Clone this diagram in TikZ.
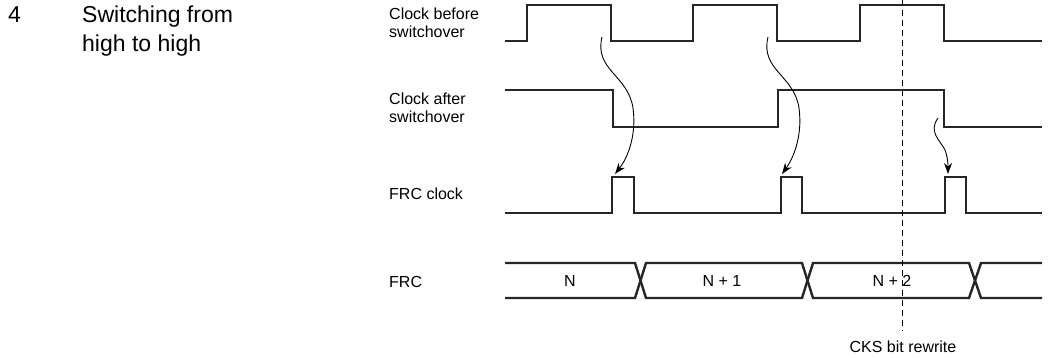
\documentclass[tikz,border=0pt]{standalone}
\usepackage{fontspec}
\setmainfont{Liberation Sans}
\usetikzlibrary{arrows.meta}
\begin{document}
\begin{tikzpicture}[x=1pt,y=-1pt,
  sig/.style={line width=2.4pt, line join=miter, color=black!85},
  cause/.style={line width=0.9pt, -{Stealth[length=11pt,width=8pt]}},
  lbl/.style={font=\fontsize{16}{17.5}\selectfont, inner sep=0pt, anchor=base west, align=left},
  val/.style={font=\fontsize{16}{17}\selectfont, inner sep=0pt, anchor=base},
  ttl/.style={font=\fontsize{23}{29}\selectfont, inner sep=0pt, anchor=base west, align=left},
  mark line/.style={line width=0.9pt, dash pattern=on 6pt off 4pt},
]
\useasboundingbox (0,0) rectangle (1064,357);

% title (base anchor of a multi-line node = last line)
\node[ttl] (num) at (8,22) {4};
\node[ttl] (title) at (82,51) {Switching from\\high to high};

% signal labels
\node[lbl] (lbefore) at (389,37) {Clock before\\switchover};
\node[lbl] (lafter) at (389,122) {Clock after\\switchover};
\node[lbl] (lfrcclk) at (389,199) {FRC clock};
\node[lbl] (lfrc) at (389,287) {FRC};

% Clock before switchover
\draw[sig] (505,41)--(527,41)--(527,5)--(611,5)--(611,41)--(693,41)--(693,5)--(777,5)--(777,41)--(860,41)--(860,5)--(944,5)--(944,41)--(1042,41);
% Clock after switchover
\draw[sig] (505,90)--(613,90)--(613,127)--(778,127)--(778,90)--(944,90)--(944,127)--(1042,127);
% FRC clock
\draw[sig] (505,213)--(612,213)--(612,177)--(634,177)--(634,213)--(781,213)--(781,177)--(802,177)--(802,213)--(945,213)--(945,177)--(966,177)--(966,213)--(1042,213);
% FRC bus
\draw[sig] (505,263)--(635,263)--(646,298)--(802,298)--(813,263)--(969,263)--(981,298)--(1042,298);
\draw[sig] (505,298)--(635,298)--(646,263)--(802,263)--(813,298)--(969,298)--(981,263)--(1042,263);
\node[val] (vN) at (570,286) {N};
\node[val] (vN1) at (722,286) {N + 1};
\node[val] (vN2) at (892,286) {N + 2};

% CKS bit rewrite marker
\node[val] (cks) at (903,352) {CKS bit rewrite};
\coordinate (mtop) at (902,0);
\draw[mark line] (mtop) -- ([yshift=10pt]cks.north -| mtop);

% causal arrows
\coordinate (a1s) at (602,37);
\coordinate (a1e) at (615,174);
\coordinate (a2s) at (768,37);
\coordinate (a2e) at (782,174);
\coordinate (a3s) at (938,118);
\coordinate (a3e) at (948,174);
\draw[cause] (a1s) .. controls (594,70) and (628,75) .. (633,108) .. controls (637,138) and (626,160) .. (a1e);
\draw[cause] (a2s) .. controls (760,70) and (794,75) .. (799,108) .. controls (803,138) and (792,160) .. (a2e);
\draw[cause] (a3s) .. controls (928,132) and (940,140) .. (945,150) .. controls (948,158) and (948,165) .. (a3e);
\end{tikzpicture}
\end{document}
